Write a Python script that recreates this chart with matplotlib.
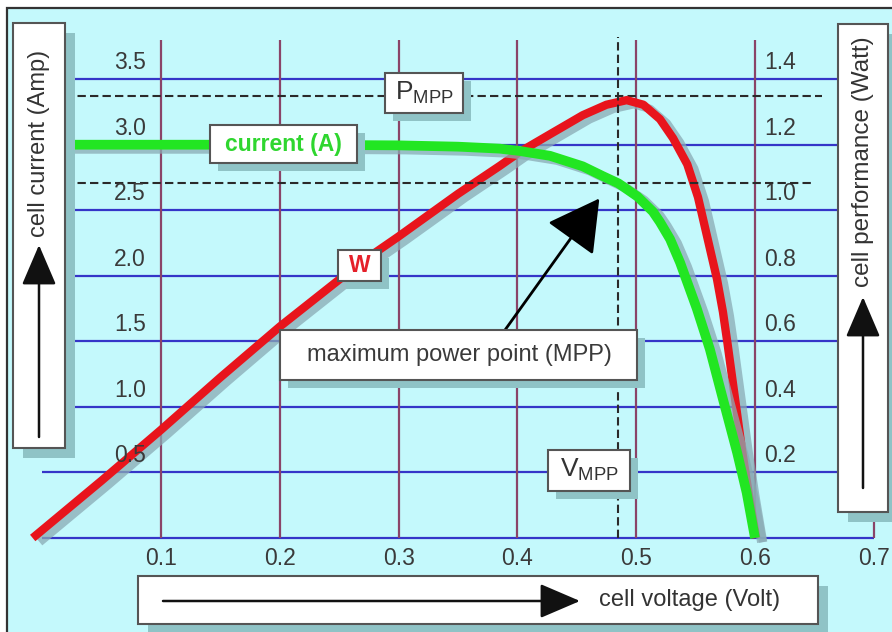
import matplotlib
matplotlib.use("Agg")
import matplotlib.pyplot as plt
from matplotlib.patches import Rectangle, FancyArrowPatch
import matplotlib.patheffects as pe

plt.rcParams['font.family'] = ['Liberation Sans', 'DejaVu Sans']
plt.rcParams['mathtext.fontset'] = 'custom'
plt.rcParams['mathtext.rm'] = 'Liberation Sans'

# ---- data ----
volt_ticks = [0.1, 0.2, 0.3, 0.4, 0.5, 0.6, 0.7]
amp_ticks = [0.5, 1.0, 1.5, 2.0, 2.5, 3.0, 3.5]
watt_ticks = [0.2, 0.4, 0.6, 0.8, 1.0, 1.2, 1.4]

current_v = [0.0, 0.1, 0.2, 0.3, 0.35, 0.385, 0.402, 0.4275, 0.455, 0.472,
             0.485, 0.501, 0.514, 0.52, 0.5285, 0.537, 0.551, 0.562, 0.573,
             0.585, 0.593, 0.600]
current_a = [3.00, 3.00, 3.00, 2.995, 2.985, 2.97, 2.952, 2.915, 2.835, 2.76,
             2.705, 2.605, 2.49, 2.41, 2.28, 2.10, 1.75, 1.44, 1.06,
             0.65, 0.345, 0.0]

power_v = [-0.008, 0.05, 0.1, 0.15, 0.2, 0.268, 0.3, 0.35, 0.385, 0.402,
           0.4275, 0.455, 0.475, 0.492, 0.506, 0.52, 0.531, 0.543, 0.552,
           0.56, 0.568, 0.573, 0.577, 0.583, 0.589, 0.5945, 0.601]
power_w = [0.0, 0.175, 0.33, 0.49, 0.645, 0.84, 0.92, 1.05, 1.135, 1.178,
           1.232, 1.29, 1.322, 1.336, 1.322, 1.278, 1.22, 1.14, 1.04,
           0.915, 0.79, 0.69, 0.59, 0.43, 0.27, 0.14, 0.0]

v_mpp = 0.485
i_mpp = 2.71
p_mpp = 1.348

# ---- figure ----
W, H = 892, 632
fig = plt.figure(figsize=(W / 100, H / 100), dpi=100)
fig.patch.set_facecolor('white')


def fx(px):
    return px / W


def fy(py):
    return 1 - py / H


cyan = '#c4f9fc'
shadow = '#8fc3c6'
edge = '#555555'

fig.add_artist(Rectangle((fx(7), fy(645)), fx(900 - 7), 637 / H,
                         transform=fig.transFigure, facecolor=cyan,
                         edgecolor='#333333', lw=1.6, zorder=-10))

ax = fig.add_axes([0, 0, 1, 1])
ax.set_xlim(-42.2 / 1188, (W - 42.2) / 1188)
ax.set_ylim((538 - H) / 131.1, 538 / 131.1)
ax.axis('off')
ax2 = ax.twinx()
lo, hi = ax.get_ylim()
ax2.set_ylim(lo / 2.5, hi / 2.5)
ax2.axis('off')
ax.set_zorder(ax2.get_zorder() + 1)

# grid (on power axes, drawn first)
ax2.hlines([0] + watt_ticks, 0, 0.7, color='#3535c8', lw=1.6, zorder=1)
ax2.vlines(volt_ticks, 0, 3.8 / 2.5, color='#8a4468', lw=1.6, zorder=1)

dash = (0, (4, 2))
ax2.hlines(p_mpp, 0.019, 0.656, color='#2a2a2a', lw=1.5, ls=dash, zorder=2)
ax.hlines(i_mpp, 0.019, 0.649, color='#2a2a2a', lw=1.5, ls=dash, zorder=2)
ax.vlines(v_mpp, 0, 3.82, color='#2a2a2a', lw=1.5, ls=dash, zorder=2)

shade = [pe.SimpleLineShadow(offset=(5, -3), shadow_color='#8aaab4', alpha=0.75),
         pe.Normal()]
ax2.plot(power_v, power_w, color='#e8141c', lw=6, solid_capstyle='butt',
         solid_joinstyle='round', zorder=3, path_effects=shade)
ax.plot(current_v, current_a, color='#22e622', lw=7, solid_capstyle='butt',
        solid_joinstyle='round', zorder=3, path_effects=shade)

# tick labels
tick_col = '#3a3a3a'
fs = 16.5
for t in amp_ticks:
    ax.annotate(f'{t:.1f}', xy=(0.074, t), xytext=(0, 12), textcoords='offset points',
                ha='center', va='center', fontsize=fs, color=tick_col)
for t in watt_ticks:
    ax2.annotate(f'{t:.1f}', xy=(0.6211, t), xytext=(0, 12), textcoords='offset points',
                 ha='center', va='center', fontsize=fs, color=tick_col)
for t in volt_ticks:
    ax.annotate(f'{t:.1f}', xy=(t, 0), xytext=(0, -14.5), textcoords='offset points',
                ha='center', va='center', fontsize=fs, color=tick_col)

# MPP arrow
ax.annotate('', xy=(v_mpp - 0.016, i_mpp - 0.12), xytext=(0.3896, 1.587),
            arrowprops=dict(arrowstyle='-|>,head_length=0.9,head_width=0.5',
                            mutation_scale=36, color='black', lw=2,
                            shrinkA=0, shrinkB=0), zorder=4)


def box(x0, y0, x1, y1, off=10):
    fig.add_artist(Rectangle((fx(x0 + off), fy(y1 + off)), fx(x1 - x0), (y1 - y0) / H,
                             transform=fig.transFigure, facecolor=shadow,
                             edgecolor='none', zorder=5))
    fig.add_artist(Rectangle((fx(x0), fy(y1)), fx(x1 - x0), (y1 - y0) / H,
                             transform=fig.transFigure, facecolor='white',
                             edgecolor=edge, lw=1.5, zorder=6))


def arrow(p0, p1):
    fig.add_artist(FancyArrowPatch((fx(p0[0]), fy(p0[1])), (fx(p1[0]), fy(p1[1])),
                                   transform=fig.transFigure,
                                   arrowstyle='-|>,head_length=0.7,head_width=0.3',
                                   mutation_scale=36, color='#111111', lw=1.8,
                                   shrinkA=0, shrinkB=0, zorder=7))


# axis boxes
box(13, 23, 65, 448)
fig.text(fx(39), fy(143), 'cell current (Amp)', rotation=90, ha='center', va='center',
         fontsize=17, color='#333333', zorder=8)
arrow((39, 437), (39, 245))

box(838, 24, 888, 512)
fig.text(fx(863), fy(162), 'cell performance (Watt)', rotation=90, ha='center',
         va='center', fontsize=17.5, color='#333333', zorder=8)
arrow((863, 488), (863, 297))

box(138, 576, 818, 624)
fig.text(fx(690), fy(600), 'cell voltage (Volt)', ha='center', va='center',
         fontsize=17, color='#333333', zorder=8)
arrow((163, 601), (580, 601))

# labels on the curves
box(210, 125, 357, 163, off=8)
fig.text(fx(283), fy(144), 'current (A)', ha='center', va='center', fontsize=16.5,
         weight='bold', color='#2fd62f', zorder=8)

box(338, 250, 381, 281, off=8)
fig.text(fx(360), fy(266), 'W', ha='center', va='center', fontsize=16.5,
         weight='bold', color='#e5202a', zorder=8)

box(385, 73, 463, 113, off=8)
fig.text(fx(424), fy(93), r'P$_{\mathrm{MPP}}$', ha='center', va='center',
         fontsize=19, color='#333333', zorder=8)

box(548, 450, 630, 491, off=8)
fig.text(fx(589), fy(470), r'V$_{\mathrm{MPP}}$', ha='center', va='center',
         fontsize=19, color='#333333', zorder=8)

box(280, 330, 637, 380, off=8)
fig.text(fx(459), fy(355), 'maximum power point (MPP)', ha='center', va='center',
         fontsize=17, color='#3a3a3a', zorder=8)

fig.savefig('out.png', dpi=100)
